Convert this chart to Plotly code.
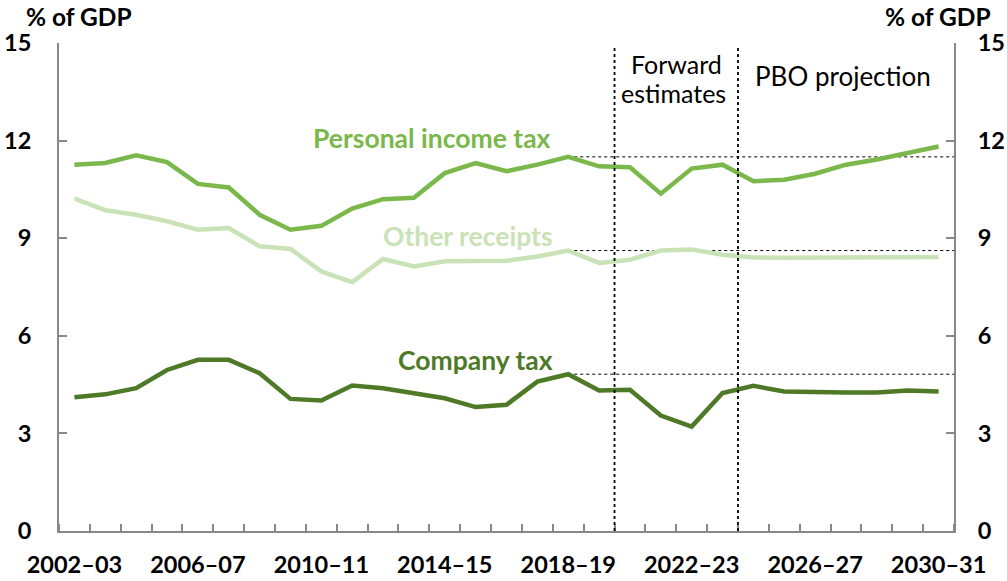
import plotly.graph_objects as go

years = [f"{y}–{str(y+1)[-2:]}" for y in range(2002, 2031)]
personal_income_tax = [11.26, 11.31, 11.55, 11.34, 10.67, 10.56, 9.72, 9.26, 9.38, 9.91,
                       10.20, 10.24, 11.00, 11.31, 11.06, 11.26, 11.50, 11.21, 11.18, 10.37,
                       11.14, 11.26, 10.75, 10.80, 10.98, 11.26, 11.42, 11.62, 11.82]
other_receipts = [10.22, 9.86, 9.72, 9.52, 9.26, 9.31, 8.75, 8.67, 7.98, 7.65,
                  8.36, 8.13, 8.29, 8.29, 8.31, 8.44, 8.62, 8.24, 8.34, 8.62,
                  8.65, 8.49, 8.41, 8.40, 8.40, 8.41, 8.41, 8.41, 8.42]
company_tax = [4.11, 4.20, 4.39, 4.95, 5.26, 5.26, 4.85, 4.06, 4.01, 4.47,
               4.39, 4.24, 4.08, 3.81, 3.88, 4.59, 4.82, 4.32, 4.34, 3.55,
               3.21, 4.24, 4.46, 4.29, 4.26, 4.26, 4.26, 4.32, 4.29]
tick_labels = years[::4]
ref_index = years.index("2018–19")
fe_start = years.index("2020–21")
pbo_start = years.index("2024–25")

x = list(range(len(years)))
FONT = "Lato"
C_PIT = "#7AB84B"
C_OTH = "#C9E3B7"
C_COM = "#4E7A27"

fig = go.Figure()
for name, vals, col in [("Other receipts", other_receipts, C_OTH),
                        ("Personal income tax", personal_income_tax, C_PIT),
                        ("Company tax", company_tax, C_COM)]:
    fig.add_trace(go.Scatter(x=x, y=vals, mode="lines", name=name,
                             line=dict(color=col, width=4.5), hoverinfo="skip"))
fig.add_trace(go.Scatter(x=[None], y=[None], yaxis="y2", showlegend=False))

# horizontal reference dotted lines from 2018-19
for vals in [personal_income_tax, other_receipts, company_tax]:
    fig.add_shape(type="line", xref="x", yref="y", x0=ref_index, x1=len(years) - 0.5,
                  y0=vals[ref_index], y1=vals[ref_index],
                  line=dict(color="black", width=1, dash="dot"), layer="below")
# vertical dividers
for b in [fe_start - 0.5, pbo_start - 0.5]:
    fig.add_shape(type="line", xref="x", yref="paper", x0=b, x1=b, y0=0, y1=0.995,
                  line=dict(color="black", width=1.8, dash="dot"))


def font(size, color="black"):
    return dict(family=FONT, size=size, color=color)


fig.add_annotation(x=11.6, y=12.09, text="<b>Personal income tax</b>", showarrow=False,
                   font=font(26.5, C_PIT))
fig.add_annotation(x=12.75, y=9.08, text="<b>Other receipts</b>", showarrow=False,
                   font=font(26.5, C_OTH))
fig.add_annotation(x=13.0, y=5.26, text="<b>Company tax</b>", showarrow=False,
                   font=font(26.5, C_COM))
fig.add_annotation(x=19.5, y=14.36, text="Forward", showarrow=False, font=font(25))
fig.add_annotation(x=19.4, y=13.47, text="estimates", showarrow=False, font=font(25))
fig.add_annotation(x=24.9, y=13.99, text="PBO projection", showarrow=False, font=font(26))
fig.add_annotation(xref="paper", yref="paper", x=-0.039, y=1.0, yshift=27,
                   xanchor="left", yanchor="middle",
                   text="<b>% of GDP</b>", showarrow=False, font=font(24.5))
fig.add_annotation(xref="paper", yref="paper", x=1.044, y=1.0, yshift=27,
                   xanchor="right", yanchor="middle",
                   text="<b>% of GDP</b>", showarrow=False, font=font(24.5))

yaxis_common = dict(range=[0, 15], tickvals=[0, 3, 6, 9, 12, 15],
                    ticktext=[f"<b>{v}</b>" for v in [0, 3, 6, 9, 12, 15]],
                    showgrid=False, zeroline=False, showline=True, linecolor="#888888",
                    linewidth=2, ticks="inside", ticklen=8, tickcolor="#888888", tickwidth=2,
                    tickfont=font(23.5), fixedrange=True, automargin=False)

fig.update_layout(
    width=1007, height=581,
    margin=dict(l=59, r=53, t=43, b=50),
    plot_bgcolor="white", paper_bgcolor="white",
    showlegend=False,
    xaxis=dict(range=[-0.5, len(years) - 0.5], tickvals=x[::4],
               ticktext=[f"<b>{t}</b>" for t in tick_labels], ticks="",
               tickfont=font(23.5), automargin=False, ticklabelstandoff=12,
               showgrid=False, zeroline=False, showline=True, linecolor="#888888", linewidth=2,
               minor=dict(tick0=-0.5, dtick=1, ticks="inside", ticklen=7,
                          tickcolor="#888888", tickwidth=2, showgrid=False)),
    yaxis=dict(**yaxis_common, side="left", ticklabelstandoff=21),
    yaxis2=dict(**yaxis_common, side="right", overlaying="y", anchor="x",
                ticklabelstandoff=17),
)

fig.write_html("out.html", config={"displayModeBar": False},
               post_script="document.body.style.margin='0';document.body.style.overflow='hidden';")
